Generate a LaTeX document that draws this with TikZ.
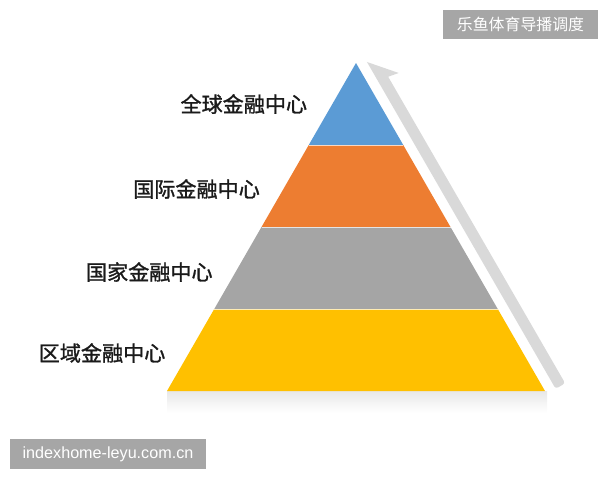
\documentclass[tikz,border=0pt]{standalone}
\usepackage{fontspec}
\newfontfamily\cjk{Noto Sans CJK SC}
\newfontfamily\cjkmid[FakeBold=1.3]{Noto Sans CJK SC}
\newfontfamily\urlfont{Liberation Sans}
\usetikzlibrary{calc}
\definecolor{pyrblue}{HTML}{5B9BD5}
\definecolor{pyrorange}{HTML}{ED7D31}
\definecolor{pyrgray}{HTML}{A5A5A5}
\definecolor{pyryellow}{HTML}{FFC000}
\definecolor{arrowgray}{HTML}{D9D9D9}
\definecolor{markgray}{HTML}{A6A6A6}
\definecolor{ink}{HTML}{1A1A1A}
\tikzset{
  seam/.style={draw=white,line width=0.5pt,opacity=0.7},
  climb/.style={fill=arrowgray,draw=none},
  level label/.style={
    anchor=east,
    inner sep=0pt,
    text=ink,
    font=\cjkmid\fontsize{15}{18}\selectfont
  },
  mark box/.style={
    fill=markgray,
    text=white,
    inner sep=0pt,
    align=center
  }
}

\begin{document}
\begin{tikzpicture}[x=0.025cm,y=-0.025cm]
  \useasboundingbox (0,0) rectangle (600,480);

  \coordinate (apex) at (356,63);
  \coordinate (baseL) at (167,391);
  \coordinate (baseR) at (545,391);

  % faint reflection under the base
  \shade[top color=black!9,bottom color=white]
    (baseL) rectangle ($(baseR)+(2,22)$);

  \foreach \top/\bot/\col in {0/0.25/pyrblue,0.25/0.5/pyrorange,
                              0.5/0.75/pyrgray,0.75/1/pyryellow}
    \fill[\col] ($(apex)!\top!(baseL)$) -- ($(apex)!\bot!(baseL)$)
      -- ($(apex)!\bot!(baseR)$) -- ($(apex)!\top!(baseR)$) -- cycle;

  \foreach \t in {0.25,0.5,0.75}
    \draw[seam] ($(apex)!\t!(baseL)$) -- ($(apex)!\t!(baseR)$);

  % rising arrow along the right side
  \begin{scope}[shift={(apex)},rotate=-60]
    \fill[climb] (4.6,-10) -- (30,-32) -- (28,-21)
      [rounded corners=2pt] -- (382,-21) -- (382,-10)
      [sharp corners] -- cycle;
  \end{scope}

  \node[level label] (global) at ($(apex)!0.125!(baseL)+(-25,0)$) {全球金融中心};
  \node[level label] (international) at ($(apex)!0.375!(baseL)+(-25,3)$) {国际金融中心};
  \node[level label] (national) at ($(apex)!0.625!(baseL)+(-25,4)$) {国家金融中心};
  \node[level label] (regional) at ($(apex)!0.875!(baseL)+(-25,3)$) {区域金融中心};

  \node[mark box,minimum width=3.875cm,minimum height=0.725cm,
    font=\cjk\fontsize{11.3}{13}\selectfont] (channel) at (520.5,24.5) {乐鱼体育导播调度};
  \node[mark box,minimum width=4.9cm,minimum height=0.75cm,
    font=\urlfont\fontsize{11.5}{13}\selectfont] (site) at (108,454) {indexhome-leyu.com.cn};
\end{tikzpicture}
\end{document}
